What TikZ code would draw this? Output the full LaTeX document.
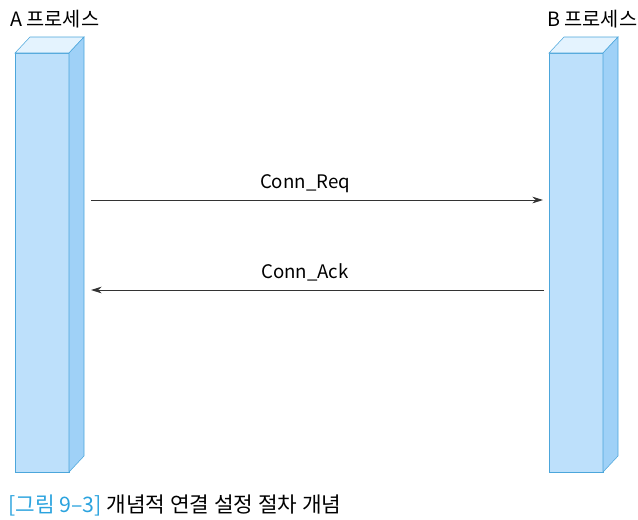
\documentclass[tikz,border=0pt]{standalone}
\usepackage{fontspec}
\setmainfont{Noto Sans CJK KR}
\usetikzlibrary{arrows.meta}
\definecolor{barfront}{HTML}{BDE0FB}
\definecolor{bartop}{HTML}{E4F3FE}
\definecolor{barside}{HTML}{9FD1F7}
\definecolor{baredge}{HTML}{4CA6DB}
\definecolor{figblue}{HTML}{2BA3DE}
% process bar: front face at x = #1, named #2
\def\procbar(#1)#2{
	\coordinate (#2) at (#1, 53);
	\draw[baredge, fill=barfront] (#1, 53) rectangle (#1+54, 472);
	\draw[baredge, fill=bartop] (#1, 53) -- (#1+15, 37) -- (#1+69, 37) -- (#1+54, 53) -- cycle;
	\draw[baredge, fill=barside] (#1+54, 53) -- (#1+69, 37) -- (#1+69, 456) -- (#1+54, 472) -- cycle;
}
\tikzset{
	msg/.style={draw=black!80, line width=0.7pt, -{Stealth[length=8pt, width=5pt]}},
	lbl/.style={inner sep=0pt, font=\fontsize{14}{16}\selectfont},
}

\begin{document}
\begin{tikzpicture}[x=0.75pt, y=-0.75pt]
			%%%%% START %%%%%
			\useasboundingbox (0, 0) rectangle (638, 519);
			
			\procbar(15){A bar}
			\procbar(549){B bar}
			
			\node[lbl, anchor=west, font=\fontsize{14.8}{17}\selectfont] (A name) at (10, 19) {A 프로세스};
			\node[lbl, anchor=west, font=\fontsize{14.8}{17}\selectfont] (B name) at (547, 19) {B 프로세스};
			
			\coordinate (A req) at (91, 200);
			\coordinate (B req) at (543, 200);
			\coordinate (A ack) at (91, 290);
			\coordinate (B ack) at (544, 290);
			
			\draw[msg] (A req) -- (B req);
			\draw[msg] (B ack) -- (A ack);
			\node[lbl] (req) at (305, 184) {Conn\_Req};
			\node[lbl] (ack) at (305, 272) {Conn\_Ack};
			
			\node[lbl, anchor=west, font=\fontsize{16}{18}\selectfont] (caption) at (8, 505) {\textcolor{figblue}{[그림 9–3]} 개념적 연결 설정 절차 개념};
			%%%%% END %%%%%
\end{tikzpicture}
\end{document}
